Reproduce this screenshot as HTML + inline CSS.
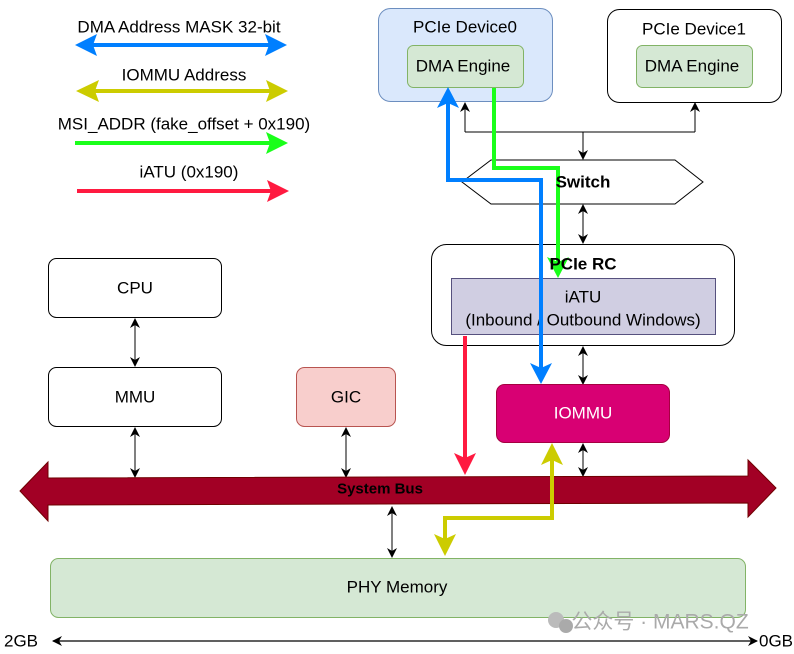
<!DOCTYPE html>
<html><head><meta charset="utf-8"><style>
html,body{margin:0;padding:0;background:#fff;}
svg{display:block;}
text{font-family:"Liberation Sans","Noto Sans CJK SC",sans-serif;font-size:17px;text-anchor:middle;dominant-baseline:central;fill:#000;}
</style></head><body>
<svg width="794" height="654" viewBox="0 0 794 654" xmlns="http://www.w3.org/2000/svg">
<defs>
<marker id="ab" viewBox="0 0 10 10" refX="9" refY="5" markerWidth="10" markerHeight="10" orient="auto-start-reverse" markerUnits="userSpaceOnUse"><path d="M0,0 L10,5 L0,10 L3,5 Z" fill="#000"/></marker>
</defs>
<!-- legend -->
<text x="179" y="27">DMA Address MASK 32-bit</text>
<line x1="88" y1="45" x2="274" y2="45" stroke="#007fff" stroke-width="4"/>
<path d="M75,45 L97,34 L93,45 L97,56 Z M287,45 L265,34 L269,45 L265,56 Z" fill="#007fff"/>
<text x="184" y="75">IOMMU Address</text>
<line x1="88" y1="91" x2="276" y2="91" stroke="#cccc00" stroke-width="4"/>
<path d="M76,91 L99,80 L95,91 L99,102 Z M288,91 L266,80 L270,91 L266,102 Z" fill="#cccc00"/>
<text x="184" y="124">MSI_ADDR (fake_offset + 0x190)</text>
<line x1="75" y1="143" x2="276" y2="143" stroke="#1aff1a" stroke-width="4"/>
<path d="M288,143 L266,132 L270,143 L266,154 Z" fill="#1aff1a"/>
<text x="189" y="172">iATU (0x190)</text>
<line x1="77" y1="191" x2="277" y2="191" stroke="#ff1a40" stroke-width="4"/>
<path d="M289,191 L267,180 L271,191 L267,202 Z" fill="#ff1a40"/>

<!-- PCIe devices -->
<rect x="378.5" y="8.5" width="174" height="93" rx="12" fill="#dae8fc" stroke="#6c8ebf"/>
<text x="465" y="27">PCIe Device0</text>
<rect x="407.5" y="45.5" width="116" height="42" rx="6" fill="#d5e8d4" stroke="#82b366"/>
<text x="463" y="66">DMA Engine</text>
<rect x="607.5" y="9.5" width="174" height="93" rx="12" fill="#fff" stroke="#000"/>
<text x="694" y="29">PCIe Device1</text>
<rect x="636.5" y="45.5" width="116" height="42" rx="6" fill="#d5e8d4" stroke="#82b366"/>
<text x="692" y="66">DMA Engine</text>

<path d="M465,132 L695,132" stroke="#000" fill="none"/>
<line x1="465" y1="132" x2="465" y2="103" stroke="#000" marker-end="url(#ab)"/>
<line x1="695" y1="132" x2="695" y2="103" stroke="#000" marker-end="url(#ab)"/>
<line x1="583" y1="132" x2="583" y2="159" stroke="#000" marker-end="url(#ab)"/>

<!-- switch -->
<polygon points="462,182 491,160 675,160 703,182 675,204 491,204" fill="#fff" stroke="#000"/>
<line x1="583" y1="205" x2="583" y2="243" stroke="#000" marker-start="url(#ab)" marker-end="url(#ab)"/>

<!-- PCIe RC -->
<rect x="431.5" y="244.5" width="303" height="101" rx="15" fill="#fff" stroke="#000"/>
<rect x="451.5" y="278.5" width="264" height="56" fill="#d0cee2" stroke="#56517e"/>
<text x="583" y="297">iATU</text>
<text x="583" y="320">(Inbound / Outbound Windows)</text>
<line x1="583" y1="347" x2="583" y2="384" stroke="#000" marker-start="url(#ab)" marker-end="url(#ab)"/>

<!-- IOMMU -->
<rect x="496.5" y="384.5" width="173" height="58" rx="8" fill="#d80073" stroke="#a50040"/>
<text x="583" y="413" style="fill:#fff">IOMMU</text>
<line x1="583" y1="444" x2="583" y2="476" stroke="#000" marker-start="url(#ab)" marker-end="url(#ab)"/>

<!-- CPU MMU GIC -->
<rect x="48.5" y="258.5" width="173" height="59" rx="8" fill="#fff" stroke="#000"/>
<text x="135" y="288">CPU</text>
<line x1="135" y1="319" x2="135" y2="366" stroke="#000" marker-start="url(#ab)" marker-end="url(#ab)"/>
<rect x="48.5" y="367.5" width="173" height="59" rx="8" fill="#fff" stroke="#000"/>
<text x="135" y="397">MMU</text>
<line x1="135" y1="428" x2="135" y2="477" stroke="#000" marker-start="url(#ab)" marker-end="url(#ab)"/>
<rect x="296.5" y="367.5" width="99" height="59" rx="8" fill="#f8cecc" stroke="#b85450"/>
<text x="346" y="397">GIC</text>
<line x1="346" y1="428" x2="346" y2="477" stroke="#000" marker-start="url(#ab)" marker-end="url(#ab)"/>

<!-- System bus -->
<polygon points="20,491 48,462 48,478 748,476 748,460 776,488 748,517 748,503 48,505 48,521" fill="#a20025" stroke="#6f0000" stroke-width="1"/>
<text x="380" y="489" style="font-weight:bold;font-size:15px">System Bus</text>

<line x1="392" y1="507" x2="392" y2="557" stroke="#000" marker-start="url(#ab)" marker-end="url(#ab)"/>

<!-- PHY memory -->
<rect x="50.5" y="558.5" width="695" height="59" rx="8" fill="#d5e8d4" stroke="#82b366"/>
<text x="397" y="587">PHY Memory</text>

<!-- bottom -->
<line x1="53" y1="641" x2="757" y2="641" stroke="#000" stroke-width="1.3" marker-start="url(#ab)" marker-end="url(#ab)"/>
<text x="21" y="641">2GB</text>
<text x="776" y="641">0GB</text>
<text x="660" y="622" style="fill:#aaa;font-size:21px">公众号 · MARS.QZ</text>
<circle cx="556" cy="620" r="8" fill="#bbb"/><circle cx="566" cy="626" r="7" fill="#aaa"/>

<!-- colored paths -->
<path d="M448,96 L448,180 L541,180 L541,372" stroke="#007fff" stroke-width="4" fill="none"/>
<path d="M448,87 L437,108 L448,103 L459,108 Z" fill="#007fff"/>
<path d="M541,384 L530,363 L541,368 L552,363 Z" fill="#007fff"/>
<path d="M494,88 L494,168 L558,168 L558,266" stroke="#1aff1a" stroke-width="4" fill="none"/>
<path d="M558,278 L547,257 L558,262 L569,257 Z" fill="#1aff1a"/>
<path d="M465,336 L465,462" stroke="#ff1a40" stroke-width="4" fill="none"/>
<path d="M465,475 L454,453 L465,458 L476,453 Z" fill="#ff1a40"/>
<path d="M552,455 L552,518 L445,518 L445,544" stroke="#cccc00" stroke-width="4" fill="none"/>
<path d="M552,443 L541,465 L552,460 L563,465 Z" fill="#cccc00"/>
<path d="M445,556 L434,534 L445,539 L456,534 Z" fill="#cccc00"/>

<text x="583" y="182" style="font-weight:bold">Switch</text>
<text x="583" y="264" style="font-weight:bold">PCIe RC</text>
</svg>
</body></html>
